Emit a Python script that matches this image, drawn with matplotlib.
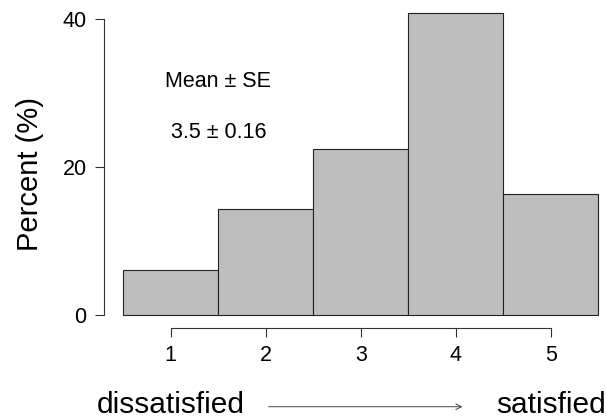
import matplotlib
matplotlib.use("Agg")
import matplotlib.pyplot as plt

plt.rcParams['font.family'] = ['Liberation Sans', 'DejaVu Sans']

# satisfaction score 1..5, percent of respondents
scores = [1, 2, 3, 4, 5]
percent = [6.12, 14.29, 22.45, 40.82, 16.33]
yticks = [0, 20, 40]
mean_txt = "Mean \u00b1 SE"
value_txt = "3.5 \u00b1 0.16"

fig = plt.figure(figsize=(6.06, 4.19), dpi=100)
ax = fig.add_axes([104 / 606, 91.3 / 419, 496 / 606, 327.2 / 419])

ax.bar(scores, percent, width=1.0, color="#bebebe", edgecolor="#222222", linewidth=0.8)

ax.set_xlim(0.297, 0.297 + 496 / 95)
ax.set_ylim(-1.72, 42.5)

for s in ["top", "right"]:
    ax.spines[s].set_visible(False)
ax.spines["left"].set_bounds(0, 40)
ax.spines["bottom"].set_bounds(1, 5)
for s in ["left", "bottom"]:
    ax.spines[s].set_linewidth(0.8)
    ax.spines[s].set_color("#333333")

ax.set_xticks(scores)
ax.set_yticks(yticks)
ax.tick_params(axis="both", length=6.5, width=0.8, color="#333333",
               labelsize=15.5, pad=6)

ax.text(1.5, 31.6, mean_txt, ha="center", va="center", fontsize=15.5)
ax.text(1.5, 24.6, value_txt, ha="center", va="center", fontsize=15.5)

fig.text(30 / 606, 1 - 174 / 419, "Percent (%)", rotation=90,
         ha="center", va="center", fontsize=21)

ax.text(1, -13.24, "dissatisfied", ha="center", va="baseline", fontsize=21.5, clip_on=False)
ax.text(5, -13.24, "satisfied", ha="center", va="baseline", fontsize=21.5, clip_on=False)
ax.annotate("", xy=(4.1, -12.4), xytext=(2.0, -12.4), annotation_clip=False,
            arrowprops=dict(arrowstyle="->", color="#444444", lw=0.7,
                            mutation_scale=10))

fig.savefig("out.png", dpi=100)
